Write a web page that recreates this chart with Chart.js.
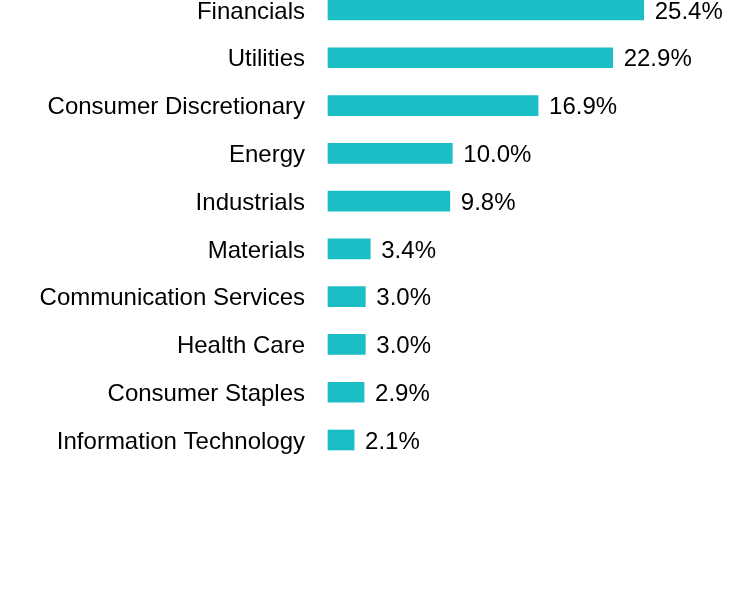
<!DOCTYPE html>
<html>
<head>
<meta charset="utf-8">
<script src="https://cdn.jsdelivr.net/npm/chart.js@4"></script>
<style>
html,body{margin:0;padding:0;background:#fff;}
#wrap{width:732px;height:600px;position:relative;}
</style>
</head>
<body>
<div id="wrap"><canvas id="c" width="732" height="600"></canvas></div>
<script>
const categories = ["Financials","Utilities","Consumer Discretionary","Energy","Industrials","Materials","Communication Services","Health Care","Consumer Staples","Information Technology"];
const values = [25.4,22.9,16.9,10.0,9.8,3.4,3.0,3.0,2.9,2.1];
const valueLabels = ["25.4%","22.9%","16.9%","10.0%","9.8%","3.4%","3.0%","3.0%","2.9%","2.1%"];

const FONT = "'Liberation Sans', Arial, sans-serif";
const labelPlugin = {
  id: 'endLabels',
  afterDatasetsDraw(chart) {
    const ctx = chart.ctx;
    const meta = chart.getDatasetMeta(0);
    ctx.save();
    ctx.font = "24px " + FONT;
    ctx.fillStyle = "#000";
    ctx.textAlign = "left";
    ctx.textBaseline = "middle";
    meta.data.forEach((bar, i) => {
      ctx.fillText(valueLabels[i], bar.x + 11, bar.y + 2);
    });
    ctx.restore();
  }
};

new Chart(document.getElementById('c'), {
  type: 'bar',
  data: {
    labels: categories,
    datasets: [{
      data: values,
      backgroundColor: '#1bbec4',
      borderWidth: 0,
      barThickness: 20,
      clip: false
    }]
  },
  options: {
    indexAxis: 'y',
    responsive: false,
    animation: false,
    devicePixelRatio: 1,
    layout: { padding: { top: 10, bottom: 160, left: 0, right: 0 } },
    plugins: { legend: { display: false }, tooltip: { enabled: false } },
    scales: {
      x: { display: false, min: 0, max: 32.5 },
      y: {
        offset: false,
        grid: { display: false, drawTicks: false },
        border: { display: false },
        ticks: { padding: 23, labelOffset: 2, color: '#000', font: { size: 24, family: FONT } },
        afterFit(axis) { axis.width = 328; axis.paddingTop = 0; axis.paddingBottom = 0; }
      }
    }
  },
  plugins: [labelPlugin]
});
</script>
</body>
</html>
